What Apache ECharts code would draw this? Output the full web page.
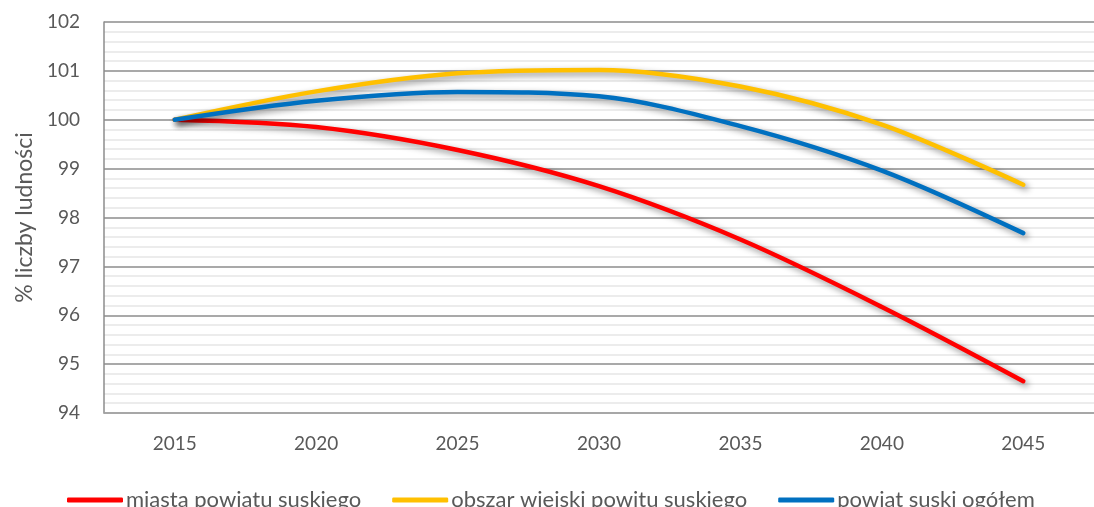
<!DOCTYPE html>
<html>
<head>
<meta charset="utf-8">
<script src="https://cdn.jsdelivr.net/npm/echarts@6/dist/echarts.min.js"></script>
<style>
html,body{margin:0;padding:0;background:#fff;}
#c{width:1094px;height:507px;}
</style>
</head>
<body>
<div id="c"></div>
<script>
const categories = ['2015','2020','2025','2030','2035','2040','2045'];
const miasta = [100, 99.85, 99.38, 98.64, 97.55, 96.17, 94.65];
const obszar = [100, 100.58, 100.95, 101.02, 100.68, 99.9, 98.67];
const powiat = [100, 100.39, 100.57, 100.48, 99.87, 98.96, 97.68];
const seriesNames = ['miasta powiatu suskiego', 'obszar wiejski powitu suskiego', 'powiat suski ogółem'];
const yAxisName = '% liczby ludności';

const font = 'Lato, "Liberation Sans", sans-serif';
const textColor = '#595959';
const colors = ['#FF0000', '#FFC000', '#0070C0'];

const chart = echarts.init(document.getElementById('c'));
function mk(name, data, color) {
  return {
    name: name, type: 'line', data: data, smooth: 0.33, symbol: 'none',
    lineStyle: { color: color, width: 4.5, cap: 'round',
      shadowColor: 'rgba(0,0,0,0.45)', shadowBlur: 6, shadowOffsetX: 3, shadowOffsetY: 3 },
    itemStyle: { color: color }
  };
}
chart.setOption({
  animation: false,
  color: colors,
  grid: { left: 104, right: -8, top: 22, bottom: 94, containLabel: false },
  legend: {
    data: seriesNames, left: 62, top: 484, icon: 'roundRect', itemWidth: 56, itemHeight: 5,
    itemGap: 31, textStyle: { fontFamily: font, fontSize: 22, color: textColor, padding: [0,0,0,-2] }
  },
  xAxis: {
    type: 'category', data: categories, boundaryGap: true,
    axisLine: { lineStyle: { color: '#a6a6a6', width: 1.5 } },
    axisTick: { show: false },
    axisLabel: { fontFamily: font, fontSize: 19, color: textColor, margin: 21 },
    splitLine: { show: false }
  },
  yAxis: {
    type: 'value', min: 94, max: 102, interval: 1,
    name: yAxisName, nameLocation: 'middle', nameGap: 64, nameRotate: 90,
    nameTextStyle: { fontFamily: font, fontSize: 23, color: textColor },
    axisLine: { show: true, lineStyle: { color: '#8c8c8c', width: 1.5 } },
    axisTick: { show: false },
    axisLabel: { fontFamily: font, fontSize: 19, color: textColor, margin: 24 },
    splitLine: { lineStyle: { color: '#8c8c8c', width: 1.5 } },
    minorTick: { show: false, splitNumber: 5 },
    minorSplitLine: { show: true, lineStyle: { color: '#ececec', width: 2 } }
  },
  series: [mk(seriesNames[0], miasta, colors[0]), mk(seriesNames[1], obszar, colors[1]), mk(seriesNames[2], powiat, colors[2])]
});
</script>
</body>
</html>
